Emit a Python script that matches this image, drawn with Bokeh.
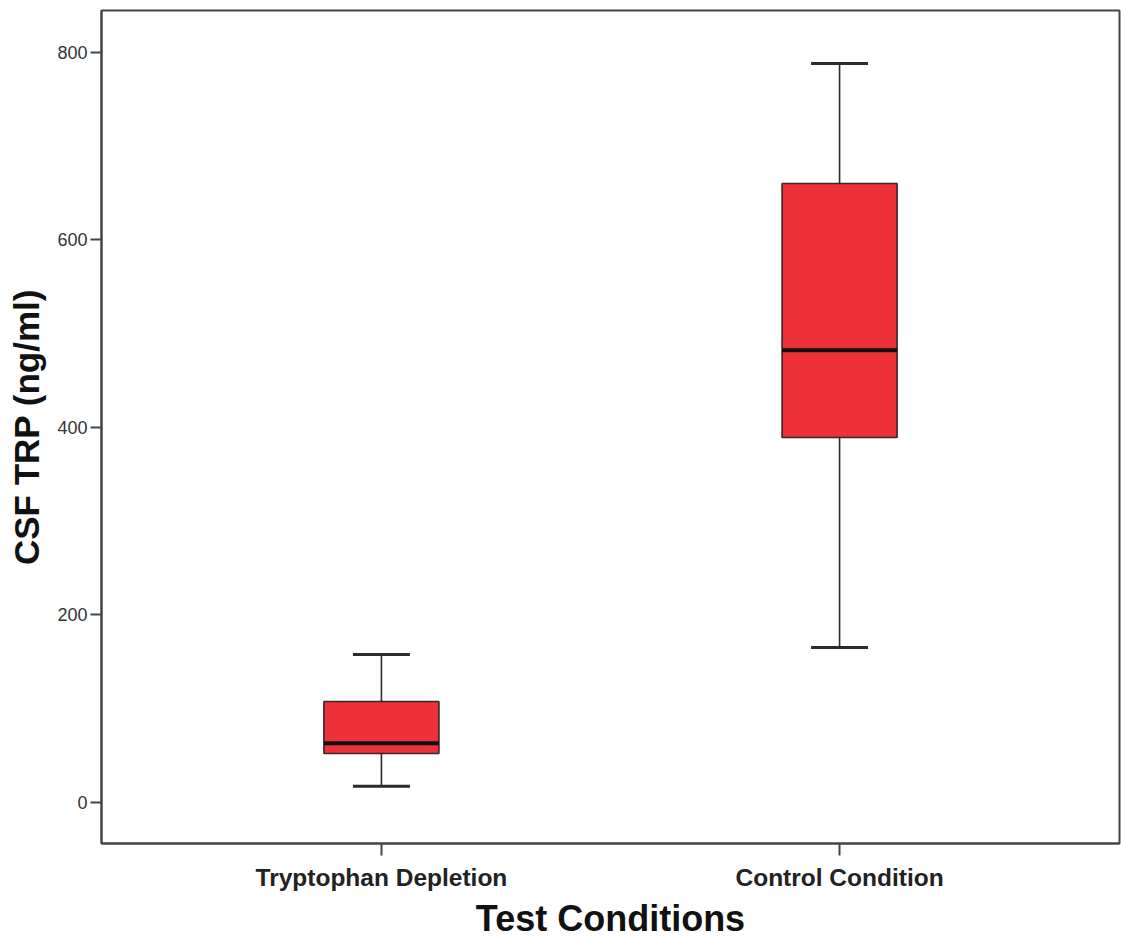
from bokeh.plotting import figure
from bokeh.models import ColumnDataSource, FactorRange, Range1d, Whisker, TeeHead, FixedTicker
from bokeh.transform import dodge
from bokeh.embed import file_html
from bokeh.resources import INLINE

categories = ["Tryptophan Depletion", "Control Condition"]
mins = [17, 165]
q1s = [52, 389]
medians = [63, 482]
q3s = [107.5, 660]
maxs = [157.5, 788]
y_ticks = [0, 200, 400, 600, 800]

src = ColumnDataSource(dict(cat=categories, lo=mins, q1=q1s, med=medians, q3=q3s, hi=maxs))

p = figure(width=1121, height=941, output_backend="svg", toolbar_location=None,
           x_range=FactorRange(factors=categories, range_padding=0.111),
           y_range=Range1d(-44, 844.5),
           min_border_left=101, min_border_right=2, min_border_top=10, min_border_bottom=98)

p.xgrid.visible = False
p.ygrid.visible = False
p.background_fill_color = "white"
p.outline_line_color = "#444444"
p.outline_line_width = 2
p.outline_line_alpha = 1

edge = "#2b2b2b"
w_up = Whisker(base="cat", lower="q3", upper="hi", source=src, level="glyph",
               line_color=edge, line_width=1.6,
               upper_head=TeeHead(size=57, line_color=edge, line_width=3), lower_head=None)
w_lo = Whisker(base="cat", lower="lo", upper="q1", source=src, level="glyph",
               line_color=edge, line_width=1.6,
               lower_head=TeeHead(size=57, line_color=edge, line_width=3), upper_head=None)
p.add_layout(w_up)
p.add_layout(w_lo)

p.vbar(x="cat", bottom="q1", top="q3", width=0.251, source=src,
       fill_color="#ec3238", line_color="#3a2626", line_width=1.6)
p.segment(x0=dodge("cat", -0.1255, range=p.x_range), x1=dodge("cat", 0.1255, range=p.x_range),
          y0="med", y1="med", source=src, line_color="#111111", line_width=4)

ya = p.yaxis[0]
ya.ticker = FixedTicker(ticks=y_ticks)
ya.axis_label = "CSF TRP (ng/ml)"
ya.axis_label_text_font = "Liberation Sans"
ya.axis_label_text_font_style = "bold"
ya.axis_label_text_font_size = "35px"
ya.axis_label_text_color = "#111111"
ya.axis_label_standoff = 8
ya.major_label_text_font = "Liberation Sans"
ya.major_label_text_font_size = "18px"
ya.major_label_text_color = "#333333"
ya.major_label_standoff = 3
ya.major_tick_out = 11
ya.major_tick_in = 0
ya.minor_tick_out = 0
ya.minor_tick_in = 0
ya.axis_line_color = "#444444"
ya.axis_line_width = 2
ya.major_tick_line_color = "#444444"
ya.major_tick_line_width = 2

xa = p.xaxis[0]
xa.axis_label = "Test Conditions"
xa.axis_label_text_font = "Liberation Sans"
xa.axis_label_text_font_style = "bold"
xa.axis_label_text_font_size = "36px"
xa.axis_label_text_color = "#111111"
xa.axis_label_standoff = 4
xa.major_label_text_font = "Liberation Sans"
xa.major_label_text_font_style = "bold"
xa.major_label_text_font_size = "24.5px"
xa.major_label_text_color = "#222222"
xa.major_label_standoff = 8
xa.major_tick_out = 12
xa.major_tick_in = 0
xa.axis_line_color = "#444444"
xa.axis_line_width = 2
xa.major_tick_line_color = "#444444"
xa.major_tick_line_width = 2

open("out.html", "w").write(file_html(p, INLINE))
